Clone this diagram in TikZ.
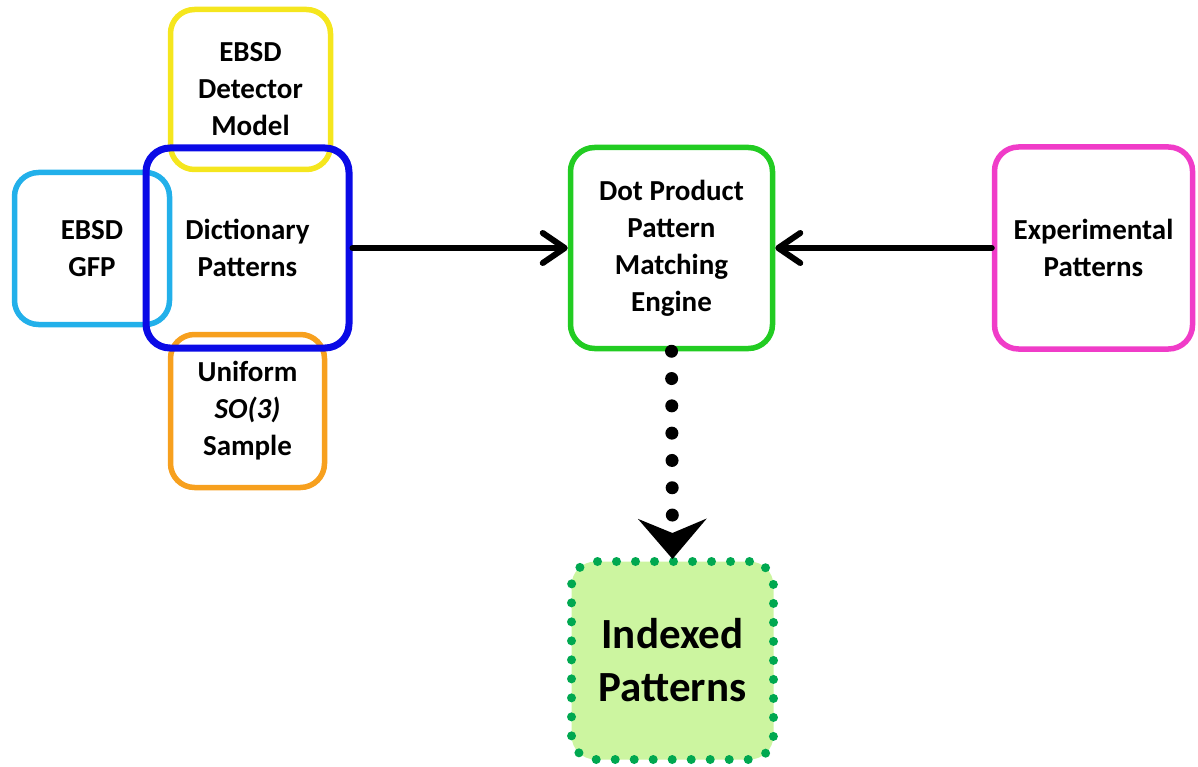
\documentclass[tikz,border=0pt]{standalone}
\usepackage{fontspec}
\setmainfont{Carlito}
\usetikzlibrary{arrows.meta}
\definecolor{cyellow}{HTML}{F5E61E}
\definecolor{ccyan}{HTML}{22B0EA}
\definecolor{cblue}{HTML}{0A0AE6}
\definecolor{corange}{HTML}{F7A01E}
\definecolor{cgreen}{HTML}{22CC22}
\definecolor{cmagenta}{HTML}{F03CC8}
\definecolor{cdot}{HTML}{00A850}
\definecolor{cfill}{HTML}{CCF5A0}
\tikzset{
  box/.style={rounded corners=24pt, line width=5.5pt, align=center,
    font=\fontsize{29}{37}\selectfont\bfseries, inner sep=0pt},
  flow/.style={line width=6pt, line cap=round,
    -{Straight Barb[length=22pt,width=30pt,round]}},
  dotflow/.style={line width=13pt, line cap=round, dash pattern=on 0pt off 27.3pt,
    -{Stealth[length=40pt,width=68pt,inset=14pt]}, shorten >=-2pt},
}
\begin{document}
\begin{tikzpicture}[x=1pt,y=-1pt]
\useasboundingbox (0,0) rectangle (1198,767);
\node[box, draw=cyellow, minimum width=160pt, minimum height=160pt] (det) at (250.5,89.5) {EBSD\\Detector\\Model};
\node[box, draw=ccyan, minimum width=155pt, minimum height=152pt] (gfp) at (92,248.5) {EBSD\\GFP};
\node[box, draw=corange, minimum width=154pt, minimum height=153pt] (so3) at (247.5,411) {Uniform\\\textit{SO(3)}\\Sample};
\node[box, draw=cblue, line width=7pt, minimum width=203pt, minimum height=200pt] (dict) at (247.5,248) {Dictionary\\Patterns};
\node[box, draw=cgreen, minimum width=202pt, minimum height=201pt] (dot) at (671.5,248) {Dot Product\\Pattern\\Matching\\Engine};
\node[box, draw=cmagenta, minimum width=198pt, minimum height=202pt] (exp) at (1093.5,248) {Experimental\\Patterns};
\node[box, draw=cdot, fill=cfill, line width=9pt, dash pattern=on 0pt off 19pt, line cap=round,
  minimum width=202pt, minimum height=198pt, font=\fontsize{43}{53}\selectfont\bfseries] (idx) at (672.5,660.5) {Indexed\\Patterns};
\draw[flow] (dict.east) -- (dot.west);
\draw[flow] (exp.west) -- (dot.east);
\draw[dotflow] (dot.south) -- (idx.north);
\end{tikzpicture}
\end{document}
